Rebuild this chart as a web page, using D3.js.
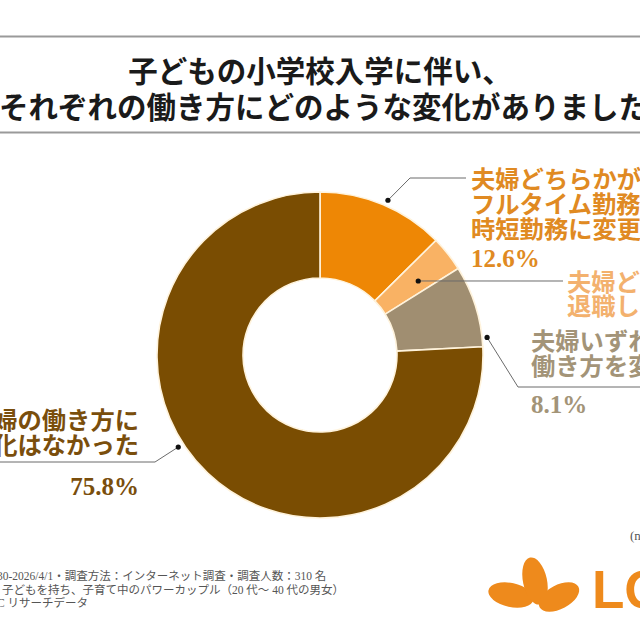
<!DOCTYPE html>
<html>
<head>
<meta charset="utf-8">
<script src="https://cdn.jsdelivr.net/npm/d3@7/dist/d3.min.js"></script>
<style>
  html, body { margin: 0; padding: 0; background: #fff; }
  svg { display: block; }
  text { font-family: "Liberation Serif", "Noto Sans CJK JP", serif; }
</style>
</head>
<body>
<svg id="chart" width="640" height="640"></svg>
<script>
// ---- data ----
// texts as visible inside the (cropped) reference frame
const titleLines = ["子どもの小学校入学に伴い、", "それぞれの働き方にどのような変化がありました"];
const categories = [
  "夫婦どちらかがフルタイム勤務から時短勤務に変更",
  "夫婦どちらかが退職した",
  "夫婦いずれかが働き方を変更",
  "夫婦の働き方に変化はなかった"
];
const values = [12.6, 3.5, 8.1, 75.8];
const labelLines = [
  ["夫婦どちらかが", "フルタイム勤務か", "時短勤務に変更", "12.6%"],
  ["夫婦ど", "退職し"],
  ["夫婦いずれ", "働き方を変", "8.1%"],
  ["婦の働き方に", "化はなかった", "75.8%"]
];
const colors = ["#EE8705", "#F9B264", "#A08E71", "#7A4D02"];
const textColors = ["#E08A22", "#F3B16E", "#A39478", "#7A4E0C"];
const footnotes = [
  "30-2026/4/1・調査方法：インターネット調査・調査人数：310 名",
  "子どもを持ち、子育て中のパワーカップル（20 代〜 40 代の男女）",
  "C リサーチデータ"
];
const sampleNote = "(n";
const logoText = "LO";

// ---- layout ----
const svg = d3.select("#chart");
const W = 640, H = 640;
const cx = 320, cy = 355, rOuter = 163, rInner = 77;

// rules
svg.append("line").attr("x1", 0).attr("x2", W).attr("y1", 36.5).attr("y2", 36.5)
  .attr("stroke", "#9a9a9a").attr("stroke-width", 2);
svg.append("line").attr("x1", 0).attr("x2", W).attr("y1", 132.5).attr("y2", 132.5)
  .attr("stroke", "#9a9a9a").attr("stroke-width", 2);

// title
svg.append("text").attr("x", 320).attr("y", 82).attr("text-anchor", "middle")
  .attr("font-size", 29.5).attr("font-weight", 700).attr("fill", "#1a1a1a")
  .text(titleLines[0]);
svg.append("text").attr("x", -1).attr("y", 118).attr("text-anchor", "start")
  .attr("font-size", 29.5).attr("font-weight", 700).attr("fill", "#1a1a1a")
  .text(titleLines[1]);

// donut
const pie = d3.pie().sort(null).value(d => d).startAngle(0).endAngle(2 * Math.PI);
const arc = d3.arc().innerRadius(rInner).outerRadius(rOuter);
const g = svg.append("g").attr("transform", `translate(${cx},${cy})`);
const arcs = pie(values);
g.selectAll("path.slice").data(arcs).enter().append("path")
  .attr("class", "slice")
  .attr("d", arc)
  .attr("fill", (d, i) => colors[i])
  .attr("stroke", "#FFF3DC").attr("stroke-width", 1.6);

// leader lines (dot polar positions around slices)
const dotPolar = [
  { a: 23.7, r: 169 },
  { a: 53, r: 123 },
  { a: 84, r: 168 },
  { a: 237, r: 169 }
];
function polar(p) {
  const t = p.a * Math.PI / 180;
  return [cx + p.r * Math.sin(t), cy - p.r * Math.cos(t)];
}
const leaderPaths = [
  (d) => [d, [410, 178], [466, 178]],
  (d) => [d, [563, 281]],
  (d) => [d, [518, 387], [660, 387]],
  (d) => [d, [155, 462], [-10, 462]]
];
const line = d3.line();
dotPolar.forEach((p, i) => {
  const d = polar(p);
  svg.append("path").attr("d", line(leaderPaths[i](d)))
    .attr("fill", "none").attr("stroke", "#6b6b6b").attr("stroke-width", 1);
  svg.append("circle").attr("cx", d[0]).attr("cy", d[1]).attr("r", 2.6).attr("fill", "#111");
});

// labels
const fs = 24.3;
function drawLabel(i, x, y0, lh, anchor, pctY) {
  const lines = labelLines[i];
  lines.forEach((t, k) => {
    const isPct = /%$/.test(t);
    svg.append("text")
      .attr("x", x).attr("y", isPct && pctY != null ? pctY : y0 + k * lh)
      .attr("text-anchor", anchor)
      .attr("font-size", isPct ? 25 : fs).attr("font-weight", 700)
      .attr("fill", textColors[i])
      .text(t);
  });
}
drawLabel(0, 471, 188, 25, "start", 267);
drawLabel(1, 567, 291, 24, "start", null);
drawLabel(2, 531, 350, 25, "start", 413);
drawLabel(3, 139, 429, 25, "end", 495);

// footnotes
footnotes.forEach((t, k) => {
  svg.append("text").attr("x", k === 1 ? 2 : -3).attr("y", 580 + k * 13.5)
    .attr("font-size", 11.5).attr("fill", "#555")
    .text(t);
});
svg.append("text").attr("x", 630).attr("y", 540).attr("font-size", 13).attr("fill", "#555").text(sampleNote);

// logo
const logo = svg.append("g").attr("fill", "#EE8A1C");
logo.append("ellipse").attr("cx", 0).attr("cy", 0).attr("rx", 23).attr("ry", 12)
  .attr("transform", "translate(511,595) rotate(12)");
logo.append("ellipse").attr("cx", 0).attr("cy", 0).attr("rx", 12).attr("ry", 24)
  .attr("transform", "translate(535,581) rotate(-12)");
logo.append("ellipse").attr("cx", 0).attr("cy", 0).attr("rx", 22).attr("ry", 12)
  .attr("transform", "translate(559,597) rotate(-28)");
svg.append("text").attr("x", 592).attr("y", 608)
  .attr("font-size", 53).attr("font-weight", 700).attr("fill", "#EE8A1C")
  .style("font-family", "'Liberation Sans', sans-serif")
  .text(logoText);
</script>
</body>
</html>
